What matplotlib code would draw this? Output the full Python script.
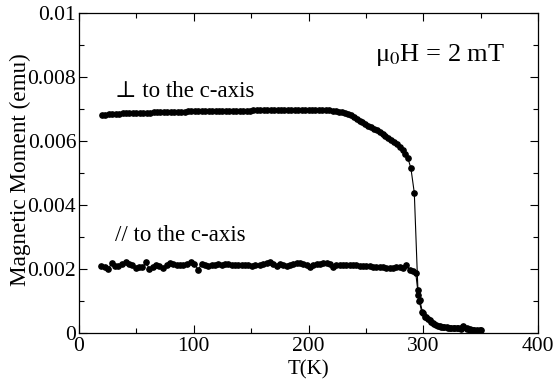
import matplotlib
matplotlib.use("Agg")
import matplotlib.pyplot as plt
from matplotlib.ticker import MultipleLocator, FuncFormatter

plt.rcParams["font.family"] = ["Liberation Serif", "DejaVu Serif"]
plt.rcParams["mathtext.fontset"] = "stix"

# perpendicular to the c-axis
t_perp = [20, 23, 26, 29, 32, 35, 38, 41, 44, 47, 50, 53, 56, 59, 62, 65, 68, 71, 74, 77,
          80, 83, 86, 89, 92, 95, 98, 101, 104, 107, 110, 113, 116, 119, 122, 125, 128, 131,
          134, 137, 140, 143, 146, 149, 152, 155, 158, 161, 164, 167, 170, 173, 176, 179,
          182, 185, 188, 191, 194, 197, 200, 203, 206, 209, 212, 215, 218, 221, 224, 227,
          229.5, 232, 234.5, 237, 239.5, 242, 244.5, 247, 249.5, 252, 254.5, 257, 259.5,
          262, 264.5, 267, 269.5, 272, 274.5, 277, 279.5, 282, 284.5, 286.5, 289.2, 292.2,
          295.5, 296.5, 298.6, 301.5, 304, 306.7, 309.6, 312.6, 315.5, 318.4, 321.3, 324.2,
          327.2, 330.1, 333, 335, 337.8, 340.7, 343.6, 346.6, 349.5]
m_perp = [0.00681, 0.00682, 0.00683, 0.00684, 0.00684, 0.00685, 0.00686, 0.00686, 0.00687,
          0.00687, 0.00688, 0.00688, 0.00689, 0.00689, 0.00689, 0.00690, 0.00690, 0.00690,
          0.00691, 0.00691, 0.00691, 0.00692, 0.00692, 0.00692, 0.00692, 0.00693, 0.00693,
          0.00693, 0.00693, 0.00693, 0.00694, 0.00694, 0.00694, 0.00694, 0.00694, 0.00694,
          0.00695, 0.00695, 0.00695, 0.00695, 0.00695, 0.00695, 0.00695, 0.00695, 0.00696,
          0.00696, 0.00696, 0.00696, 0.00696, 0.00696, 0.00696, 0.00696, 0.00696, 0.00696,
          0.00696, 0.00696, 0.00696, 0.00696, 0.00696, 0.00696, 0.00696, 0.00696, 0.00696,
          0.00696, 0.00696, 0.00696, 0.00696, 0.00695, 0.00694, 0.00692,
          0.00690, 0.00687, 0.00684, 0.00680, 0.00676, 0.00670, 0.00664, 0.00659, 0.00653,
          0.00648, 0.00643, 0.00639, 0.00633, 0.00627, 0.00621, 0.00616, 0.00610, 0.00604,
          0.00597, 0.00590, 0.00582, 0.00572, 0.00560, 0.00547, 0.00516, 0.00438,
          0.00120, 0.00100, 0.00067, 0.00051, 0.00044, 0.00035, 0.00028, 0.00021, 0.00020,
          0.00019, 0.00017, 0.00016, 0.00015, 0.00015, 0.00014, 0.00018, 0.00012, 0.00010,
          0.00009, 0.00007, 0.00008]

# parallel to the c-axis
t_par = [19.2, 22.6, 25.5, 28.5, 31.4, 34.3, 37.2, 40.7, 43.6, 46.4, 49.4, 52.3, 55.2, 58.4,
         61.3, 64.2, 67.1, 70.0, 73.5, 76.4, 79.3, 82.2, 85.1, 88.0, 90.9, 93.9, 97.6, 100.5,
         104.0, 106.9, 109.8, 112.7, 115.6, 118.5, 121.4, 124.4, 127.2, 130.1, 133.0, 135.9,
         138.8, 141.8, 144.7, 147.6, 150.5, 153.4,
         157.7, 160.6, 163.5, 166.4, 169.3, 172.2, 175.1, 178.0, 180.9, 183.8, 186.7, 189.6,
         192.5, 195.4, 198.3, 201.2, 204.1, 207.0, 209.9, 212.8, 215.7, 218.6, 221.5, 224.4,
         227.3, 230.2, 233.1, 236.0, 238.9, 241.8, 244.7, 247.6, 250.5, 253.4, 256.3, 259.2,
         262.1, 265.0, 267.9, 270.8, 273.7, 276.6, 279.5, 282.4, 285.3, 288.5, 291.4, 293.4,
         295.2, 297.0, 299.5, 302.5, 305.5, 308.5, 311.5, 314.5, 317.5, 320.5, 323.5, 326.5,
         329.5, 332.5, 335.0, 338.0, 341.0, 344.0, 347.0, 350.0]
m_par = [0.00210, 0.00205, 0.00200, 0.00218, 0.00210, 0.00210, 0.00216, 0.00221, 0.00216,
         0.00211, 0.00203, 0.00207, 0.00205, 0.00222, 0.00199, 0.00207, 0.00211, 0.00210,
         0.00202, 0.00211, 0.00218, 0.00216, 0.00214, 0.00211, 0.00211, 0.00216, 0.00222,
         0.00216, 0.00198, 0.00216, 0.00212, 0.00210, 0.00211, 0.00212, 0.00215, 0.00212,
         0.00215, 0.00217, 0.00213, 0.00213, 0.00212, 0.00211, 0.00212, 0.00211, 0.00210,
         0.00213,
         0.00212, 0.00215, 0.00218, 0.00221, 0.00216, 0.00209, 0.00215, 0.00213, 0.00209,
         0.00213, 0.00216, 0.00218, 0.00218, 0.00216, 0.00213, 0.00207, 0.00213, 0.00216,
         0.00217, 0.00218, 0.00218, 0.00216, 0.00207, 0.00213, 0.00213, 0.00212, 0.00212,
         0.00211, 0.00211, 0.00213, 0.00210, 0.00209, 0.00208, 0.00208, 0.00207, 0.00206,
         0.00205, 0.00205, 0.00204, 0.00203, 0.00203, 0.00205, 0.00207, 0.00202, 0.00211,
         0.00197, 0.00193, 0.00189,
         0.00134, 0.00102, 0.00062, 0.00049, 0.00040, 0.00031, 0.00024, 0.00021, 0.00019,
         0.00018, 0.00017, 0.00016, 0.00015, 0.00016, 0.00022, 0.00015, 0.00011, 0.00010,
         0.00008, 0.00009]

fig = plt.figure(figsize=(5.53, 3.85), dpi=100)
ax = fig.add_axes([79 / 553, 52 / 385, 459 / 553, 320 / 385])

style = dict(color="black", marker="o", markersize=3.8, linewidth=0.8)
ax.plot(t_perp, m_perp, **style)
ax.plot(t_par, m_par, **style)

ax.set_xlim(0, 400)
ax.set_ylim(0, 0.01)
ax.xaxis.set_major_locator(MultipleLocator(100))
ax.xaxis.set_minor_locator(MultipleLocator(50))
ax.yaxis.set_major_locator(MultipleLocator(0.002))
ax.yaxis.set_minor_locator(MultipleLocator(0.001))
ax.yaxis.set_major_formatter(FuncFormatter(lambda v, p: "0" if v == 0 else f"{v:g}"))
ax.tick_params(which="both", direction="in", top=True, right=True, labelsize=15.5, pad=2)
ax.tick_params(axis="x", pad=3)
ax.tick_params(which="major", length=6, width=0.8)
ax.tick_params(which="minor", length=3.5, width=0.8)
for s in ax.spines.values():
    s.set_linewidth(0.9)

ax.set_xlabel("T(K)", fontsize=15, va="center")
ax.xaxis.set_label_coords(0.499, -0.116)
ax.set_ylabel("Magnetic Moment (emu)", fontsize=16.7, va="center")
ax.yaxis.set_label_coords(-0.1285, 0.509)

ax.text(31.4, 0.00738, "\u22a5 to the c-axis", fontsize=16.5, va="baseline")
ax.text(31.4, 0.00288, "// to the c-axis", fontsize=16.5, va="baseline")
ax.text(258, 0.00851, "\u03bc$_0$H = 2 mT", fontsize=19, va="baseline")

fig.savefig("out.png", dpi=100)
